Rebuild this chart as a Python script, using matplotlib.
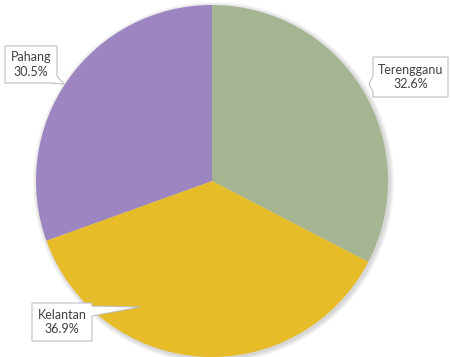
import matplotlib

matplotlib.use("Agg")
import matplotlib.pyplot as plt
from matplotlib.patches import Circle, Polygon

# share of each state, clockwise from 12 o'clock
states = ["Terengganu", "Kelantan", "Pahang"]
shares = [32.6, 36.9, 30.5]
colors = ["#A5B592", "#E7BC29", "#9C85C0"]

W, H = 450, 357
CX, CY, R = 212, H - 181, 176

# callout geometry in pixels (top-left origin): box (x0, y0, x1, y1), pointer base side, tip
callouts = {
    "Pahang": dict(box=(5, 46, 57, 83), tip=(64, 84), base=((50, 83), (57, 76))),
    "Terengganu": dict(box=(373, 57, 448, 97), tip=(369, 84), base=((373, 76), (373, 92))),
    "Kelantan": dict(box=(32, 303, 92, 341), tip=(140, 307), base=((92, 306), (92, 316))),
}

plt.rcParams["font.family"] = ["Lato", "DejaVu Sans"]

fig = plt.figure(figsize=(W / 100, H / 100), dpi=100)
ax = fig.add_axes([0, 0, 1, 1])
ax.set_xlim(0, W)
ax.set_ylim(0, H)
ax.set_aspect("equal")
ax.axis("off")

# soft drop shadow under the pie
for i in range(8):
    ax.add_patch(Circle((CX + 1.5, CY - 1.5), R + 0.6 * (8 - i),
                        color="black", alpha=0.018, lw=0, zorder=1))

ax.pie(shares, colors=colors, startangle=90, counterclock=False,
       center=(CX, CY), radius=R, frame=True,
       wedgeprops=dict(linewidth=0, zorder=2))
ax.set_xlim(0, W)
ax.set_ylim(0, H)
ax.axis("off")


def flip(p):
    return (p[0], H - p[1])


for name, share in zip(states, shares):
    c = callouts[name]
    x0, y0, x1, y1 = c["box"]
    (bx0, by0), (bx1, by1) = c["base"]
    tip = c["tip"]
    corners = [(x0, y0), (x1, y0), (x1, y1), (x0, y1)]
    # insert the pointer into the box outline at the side it leaves from
    if bx0 == x0 and bx1 == x0:  # left side
        pts = [(x0, y0), (x1, y0), (x1, y1), (x0, y1), (x0, by1), tip, (x0, by0)]
    elif bx0 == x1 and bx1 == x1:  # right side
        pts = [(x0, y0), (x1, y0), (x1, by0), tip, (x1, by1), (x1, y1), (x0, y1)]
    else:  # bottom-right corner
        pts = [(x0, y0), (x1, y0), (bx1, by1), tip, (bx0, by0), (x0, y1)]
    ax.add_patch(Polygon([flip(p) for p in pts], closed=True, facecolor="white",
                         edgecolor="#BFBFBF", lw=0.8, zorder=5))
    ax.text((x0 + x1) / 2, H - (y0 + y1) / 2, f"{name}\n{share:.1f}%",
            ha="center", va="center", fontsize=9, color="#404040",
            linespacing=1.25, zorder=6)

fig.savefig("out.png", dpi=100, facecolor="white")
